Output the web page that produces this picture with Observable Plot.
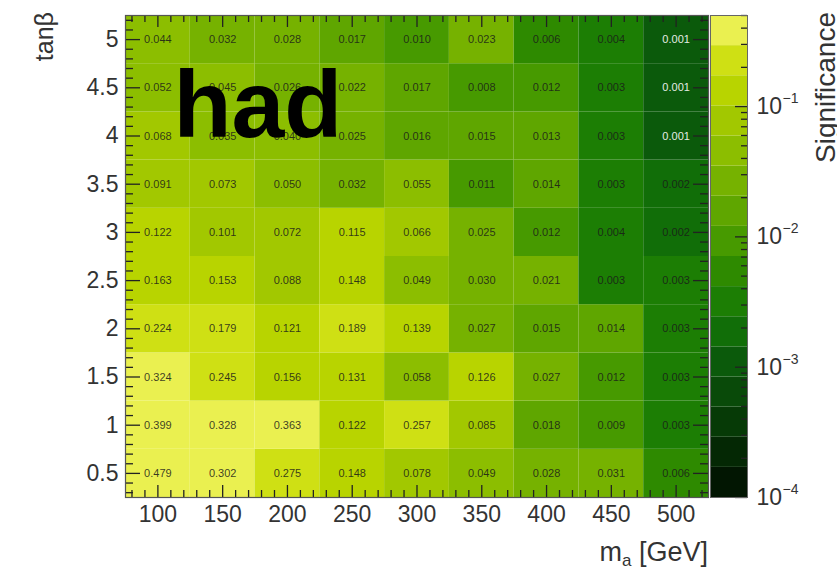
<!DOCTYPE html>
<html>
<head>
<meta charset="utf-8">
<script src="https://cdn.jsdelivr.net/npm/d3@7"></script>
<script src="https://cdn.jsdelivr.net/npm/@observablehq/plot@0.6"></script>
<style>
  body { margin: 0; background: #fff; }
  #chart { position: relative; width: 837px; height: 570px; overflow: hidden;
           font-family: "Liberation Sans", Arial, Helvetica, sans-serif; }
  #chart svg { position: absolute; top: 0; }
</style>
</head>
<body>
<div id="chart"></div>
<script>
// Pseudoscalar mass points (GeV) and tan(beta) points of the scan
const masses = [100, 150, 200, 250, 300, 350, 400, 450, 500];
const tanBetaValues = [0.5, 1, 1.5, 2, 2.5, 3, 3.5, 4, 4.5, 5];

// Significance per tan(beta) row, one entry per mass point
const sigTb0p5 = [0.479, 0.302, 0.275, 0.148, 0.078, 0.049, 0.028, 0.031, 0.006];
const sigTb1   = [0.399, 0.328, 0.363, 0.122, 0.257, 0.085, 0.018, 0.009, 0.003];
const sigTb1p5 = [0.324, 0.245, 0.156, 0.131, 0.058, 0.126, 0.027, 0.012, 0.003];
const sigTb2   = [0.224, 0.179, 0.121, 0.189, 0.139, 0.027, 0.015, 0.014, 0.003];
const sigTb2p5 = [0.163, 0.153, 0.088, 0.148, 0.049, 0.030, 0.021, 0.003, 0.003];
const sigTb3   = [0.122, 0.101, 0.072, 0.115, 0.066, 0.025, 0.012, 0.004, 0.002];
const sigTb3p5 = [0.091, 0.073, 0.050, 0.032, 0.055, 0.011, 0.014, 0.003, 0.002];
const sigTb4   = [0.068, 0.035, 0.040, 0.025, 0.016, 0.015, 0.013, 0.003, 0.001];
const sigTb4p5 = [0.052, 0.045, 0.026, 0.022, 0.017, 0.008, 0.012, 0.003, 0.001];
const sigTb5   = [0.044, 0.032, 0.028, 0.017, 0.010, 0.023, 0.006, 0.004, 0.001];

// Colour-bar decades
const zDecades = [1e-4, 1e-3, 1e-2, 1e-1];

const rows = [sigTb0p5, sigTb1, sigTb1p5, sigTb2, sigTb2p5, sigTb3, sigTb3p5, sigTb4, sigTb4p5, sigTb5];
const cells = tanBetaValues.flatMap((tb, i) => masses.map((m, j) => ({m, tb, v: rows[i][j]})));

// Binning of the 2D histogram
const dm = 50, dtb = 0.5;

// Banded green-yellow palette on a log z axis
const palette = ["#021602", "#042804", "#063a06", "#094a09", "#0b5a0b", "#116e08", "#1c7e04", "#2e8a00",
                 "#479a00", "#5fa600", "#76b200", "#8cbe00", "#a2c800", "#b8d400", "#cfe014", "#eaf050"];
const zMin = 1e-4, zMax = 0.5;
const nBands = palette.length;
const lzMin = Math.log10(zMin), lzMax = Math.log10(zMax);
const thresholds = d3.range(1, nBands).map(i => 10 ** (lzMin + i * (lzMax - lzMin) / nBands));
const colorScale = {type: "threshold", domain: thresholds, range: palette};

const W = 837, H = 570, mL = 125, mR = 129, mT = 15, mB = 73;
const fw = W - mL - mR, fh = H - mT - mB;

const xMinor = d3.range(80, 521, 10).filter(v => v % 50 !== 0);
const yMinor = d3.range(3, 53).map(i => i / 10).filter(v => Math.round(v * 10) % 5 !== 0);
const tickColor = "#222";
const xMaj = 12, xMin = 7, yMaj = 15, yMin = 8;
const font = "Liberation Sans, Arial, sans-serif";

const main = Plot.plot({
  width: W, height: H,
  marginLeft: mL, marginRight: mR, marginTop: mT, marginBottom: mB,
  style: {fontFamily: font, fontSize: "23px", color: "#333", background: "transparent"},
  x: {domain: [masses[0] - dm / 2, masses[masses.length - 1] + dm / 2], ticks: masses, tickSize: 0, tickPadding: 8,
      tickFormat: d => String(d), label: null},
  y: {domain: [tanBetaValues[0] - dtb / 2, tanBetaValues[tanBetaValues.length - 1] + dtb / 2], ticks: tanBetaValues,
      tickSize: 0, tickPadding: 7, tickFormat: d => String(d), label: null},
  color: colorScale,
  marks: [
    Plot.rect(cells, {x1: d => d.m - dm / 2, x2: d => d.m + dm / 2, y1: d => d.tb - dtb / 2, y2: d => d.tb + dtb / 2, fill: "v"}),
    Plot.text(cells, {filter: d => d.v >= 0.0015, x: "m", y: "tb", text: d => d.v.toFixed(3), fontSize: 11, fill: "#1a1a1a", fillOpacity: 0.85}),
    Plot.text(cells, {filter: d => d.v < 0.0015, x: "m", y: "tb", text: d => d.v.toFixed(3), fontSize: 11, fill: "#e4ece4"}),
    // ROOT-style inward ticks on all four sides
    Plot.tickX(masses, {x: d => d, insetTop: fh - xMaj, stroke: tickColor, strokeWidth: 1.3}),
    Plot.tickX(xMinor, {x: d => d, insetTop: fh - xMin, stroke: tickColor, strokeWidth: 1.3}),
    Plot.tickX(masses, {x: d => d, insetBottom: fh - xMaj, stroke: tickColor, strokeWidth: 1.3}),
    Plot.tickX(xMinor, {x: d => d, insetBottom: fh - xMin, stroke: tickColor, strokeWidth: 1.3}),
    Plot.tickY(tanBetaValues, {y: d => d, insetRight: fw - yMaj, stroke: tickColor, strokeWidth: 1.3}),
    Plot.tickY(yMinor, {y: d => d, insetRight: fw - yMin, stroke: tickColor, strokeWidth: 1.3}),
    Plot.tickY(tanBetaValues, {y: d => d, insetLeft: fw - yMaj, stroke: tickColor, strokeWidth: 1.3}),
    Plot.tickY(yMinor, {y: d => d, insetLeft: fw - yMin, stroke: tickColor, strokeWidth: 1.3}),
    Plot.frame({stroke: "#555", strokeWidth: 1.2}),
    Plot.text(["had"], {frameAnchor: "top-left", text: d => d, dx: 48, dy: 54, lineAnchor: "top", textAnchor: "start",
                        fontSize: 95, fontWeight: "bold", fill: "#000", fontFamily: font})
  ]
});
main.style.left = "0px";
document.getElementById("chart").appendChild(main);

// Axis titles
const ms = d3.select(main);
ms.append("text")
  .attr("transform", "translate(53,12) rotate(-90)")
  .attr("text-anchor", "end").attr("fill", "#333").attr("font-size", 25)
  .text("tanβ");
const xl = ms.append("text")
  .attr("x", mL + fw).attr("y", 561)
  .attr("text-anchor", "end").attr("fill", "#333").attr("font-size", 27);
xl.append("tspan").text("m");
xl.append("tspan").attr("font-size", 17).attr("dy", 5).text("a");
xl.append("tspan").attr("dy", -5).text(" [GeV]");

// Colour bar
const cbW = W - (mL + fw), cbLeft = 2, cbRight = 90;
const cbFw = cbW - cbLeft - cbRight;
const bands = palette.map((c, i) => ({lo: i === 0 ? zMin : thresholds[i - 1], hi: i === nBands - 1 ? zMax : thresholds[i]}));
const cbMinor = zDecades.flatMap(d => d3.range(2, 10).map(k => k * d)).filter(v => v <= zMax);

const bar = Plot.plot({
  width: cbW, height: H,
  marginLeft: cbLeft, marginRight: cbRight, marginTop: mT, marginBottom: mB,
  style: {fontFamily: font, fontSize: "22px", color: "#333", background: "transparent", overflow: "visible"},
  y: {type: "log", domain: [zMin, zMax], axis: null},
  color: colorScale,
  marks: [
    Plot.rect(bands, {y1: "lo", y2: "hi", fill: d => Math.sqrt(d.lo * d.hi)}),
    Plot.tickY(zDecades, {y: d => d, insetLeft: cbFw - 12, stroke: tickColor, strokeWidth: 1.3}),
    Plot.tickY(cbMinor, {y: d => d, insetLeft: cbFw - 6, stroke: tickColor, strokeWidth: 1.3}),
    Plot.frame({stroke: "#666", strokeWidth: 1}),
    Plot.text(zDecades, {y: d => d, frameAnchor: "right", text: () => "10", dx: 9, textAnchor: "start", fontSize: 23, fill: "#333"}),
    Plot.text(zDecades, {y: d => d, frameAnchor: "right", text: d => "−" + Math.round(-Math.log10(d)), dx: 35, dy: -8,
                         textAnchor: "start", fontSize: 14, fill: "#333"})
  ]
});
bar.style.left = (mL + fw) + "px";
document.getElementById("chart").appendChild(bar);

d3.select(bar).append("text")
  .attr("transform", `translate(${835 - (mL + fw)},12) rotate(-90)`)
  .attr("text-anchor", "end").attr("fill", "#333").attr("font-size", 28)
  .text("Significance");
</script>
</body>
</html>
